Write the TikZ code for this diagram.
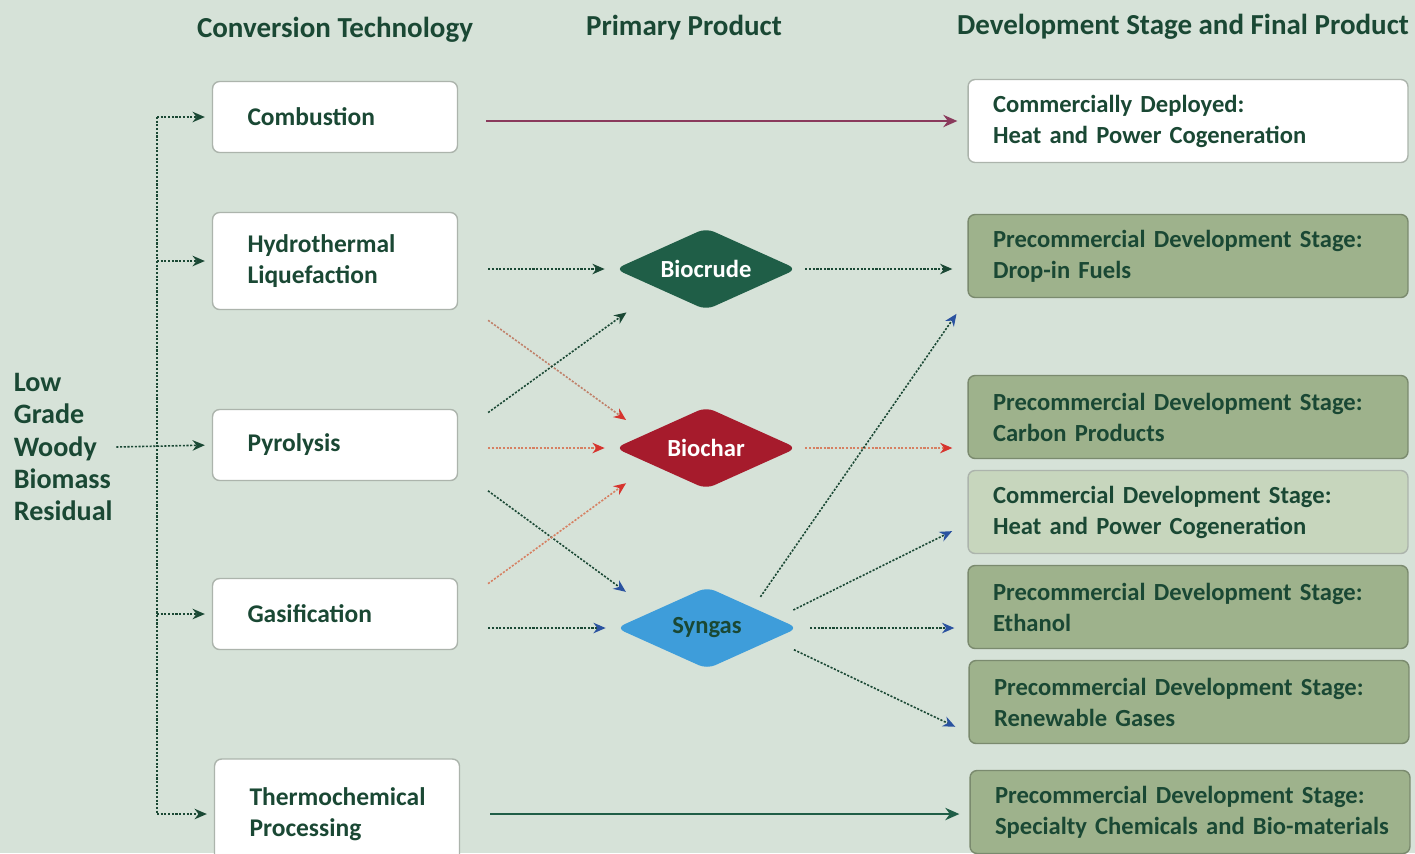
\documentclass[tikz,border=0pt]{standalone}
\usepackage{fontspec}
\setmainfont{Carlito}
\tikzset{>=stealth}
\usetikzlibrary{shapes.geometric,positioning,arrows.meta}
\definecolor{bg}{RGB}{214,226,216}
\definecolor{txt}{RGB}{26,72,52}
\definecolor{boxline}{RGB}{172,180,172}
\definecolor{stagegreen}{RGB}{158,178,140}
\definecolor{stageline}{RGB}{122,138,110}
\definecolor{stagelight}{RGB}{199,214,189}
\definecolor{crude}{RGB}{31,94,71}
\definecolor{char}{RGB}{166,27,44}
\definecolor{syn}{RGB}{62,157,218}
\definecolor{wine}{RGB}{138,58,92}
\definecolor{charline}{RGB}{214,128,98}
\definecolor{tipred}{RGB}{214,52,46}
\definecolor{tipblue}{RGB}{42,82,160}

\tikzset{
  head/.style={text=txt, font=\bfseries\fontsize{16.5}{19}\selectfont},
  tech/.style={draw=boxline, line width=0.8pt, fill=white, rounded corners=4pt, text=txt,
    font=\bfseries\fontsize{14.5}{17.6}\selectfont, text width=3.5cm, align=left,
    inner xsep=0.7cm, minimum height=1.42cm},
  stage/.style={draw=stageline, line width=0.8pt, fill=stagegreen, rounded corners=4pt, text=txt,
    font=\bfseries\fontsize{14}{17.6}\selectfont, text width=7.8cm, align=left,
    inner xsep=0.5cm, minimum height=1.66cm},
  product/.style={diamond, aspect=2.2, minimum width=3.64cm, minimum height=1.64cm, inner sep=0pt,
    rounded corners=5pt, font=\bfseries\fontsize{14}{17}\selectfont, text=white},
  dots/.style={line width=0.9pt, dash pattern=on 1.2pt off 0.9pt, txt},
  flow/.style={dots, shorten <=0.6cm, shorten >=0.2cm},
  gtip/.style={-{Stealth[length=7pt,width=6pt,txt]}},
  btip/.style={-{Stealth[length=7pt,width=6pt,tipblue]}},
  rtip/.style={-{Stealth[length=7pt,width=6pt,tipred]}}
}

\begin{document}
\begin{tikzpicture}[x=0.02cm, y=-0.02cm]
  \fill[bg] (0,0) rectangle (1415,853);
  \useasboundingbox (0,0) rectangle (1415,853);

  \node[head] (h1) at (335,30) {Conversion Technology};
  \node[head] (h2) at (684,28) {Primary Product};
  \node[head] (h3) at (1183,27) {Development Stage and Final Product};

  \node[text=txt, font=\bfseries\fontsize{16}{18.4}\selectfont, align=left, anchor=west,
    inner sep=2pt] (src) at (10,447) {Low\\Grade\\Woody\\Biomass\\Residual};

  \node[tech] (comb) at (335,117) {Combustion};
  \node[tech, minimum height=1.94cm] (htl) at (335,261) {Hydrothermal\\Liquefaction};
  \node[tech] (pyro) at (335,445) {Pyrolysis};
  \node[tech] (gas) at (335,614) {Gasification};
  \node[tech, minimum height=2.2cm] (thermo) at (337,814) {Thermochemical\\Processing};

  \node[product, fill=crude] (crude) at (706,269) {Biocrude};
  \node[product, fill=char] (char) at (706,448) {Biochar};
  \node[product, fill=syn, text=txt] (syngas) at (707,628) {Syngas};

  \node[stage, fill=white, draw=boxline] (deploy) at (1188,121) {Commercially Deployed:\\Heat and Power Cogeneration};
  \node[stage] (dropin) at (1188,256) {Precommercial Development Stage:\\Drop-in Fuels};
  \node[stage] (carbon) at (1188,417) {Precommercial Development Stage:\\Carbon Products};
  \node[stage, fill=stagelight, draw=boxline] (heat) at (1188,512) {Commercial Development Stage:\\Heat and Power Cogeneration};
  \node[stage] (ethanol) at (1188,607) {Precommercial Development Stage:\\Ethanol};
  \node[stage] (renew) at (1189,702) {Precommercial Development Stage:\\Renewable Gases};
  \node[stage] (spec) at (1190,812) {Precommercial Development Stage:\\\mbox{Specialty Chemicals and Bio-materials}};

  % feedstock to technologies
  \coordinate (trunk) at (157,0);
  \draw[dots] (trunk |- comb.west) -- (trunk |- thermo.west);
  \foreach \t in {comb,htl,gas,thermo}
    \draw[dots,gtip,shorten >=0.14cm] (trunk |- \t.west) -- (\t.west);
  \draw[dots,gtip,shorten >=0.14cm] (src.east) -- (pyro.west);

  % technologies to products
  \draw[wine, line width=1.2pt, -{Stealth[length=8pt,width=7pt]}, shorten <=0.56cm, shorten >=0.2cm]
    (deploy.west -| comb.east) -- (deploy.west);
  \draw[flow,gtip] (crude.west -| htl.east) -- (crude.west);
  \draw[dots,charline!75!gray,rtip,shorten <=0.74cm,shorten >=0.48cm] (htl.-17) -- (char.167);
  \draw[dots,gtip,shorten <=0.74cm,shorten >=0.8cm] (pyro.5) -- (crude.203);
  \draw[flow,charline,rtip] (char.west -| pyro.east) -- (char.west);
  \draw[dots,btip,shorten <=0.74cm,shorten >=0.66cm] (pyro.-11) -- (syngas.163);
  \draw[dots,charline,rtip,shorten <=0.74cm,shorten >=0.63cm] (gas.4) -- (char.197);
  \draw[flow,btip] (syngas.west -| gas.east) -- (syngas.west);
  \draw[crude, line width=1.2pt, -{Stealth[length=8pt,width=7pt]}, shorten <=0.6cm, shorten >=0.2cm]
    (thermo.east) -- (thermo.east -| spec.west);

  % products to final products
  \draw[dots,gtip,shorten <=0.16cm,shorten >=0.3cm] (crude.east) -- (crude.east -| dropin.west);
  \draw[dots,charline,rtip,shorten <=0.16cm,shorten >=0.3cm] (char.east) -- (char.east -| carbon.west);
  \draw[dots,btip,shorten <=0.26cm,shorten >=0.38cm] (syngas.24) -- (dropin.south west);
  \draw[dots,btip,shorten <=0.37cm,shorten >=0.34cm] (syngas.8) -- (heat.183);
  \draw[dots,btip,shorten <=0.24cm,shorten >=0.26cm] (syngas.east) -- (syngas.east -| ethanol.west);
  \draw[dots,btip,shorten <=0.47cm,shorten >=0.29cm] (syngas.-10) -- (renew.188);
\end{tikzpicture}
\end{document}
